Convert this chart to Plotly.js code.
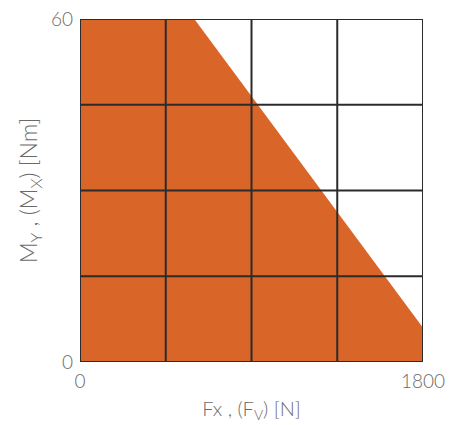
<!DOCTYPE html>
<html>
<head>
<meta charset="utf-8">
<script src="https://cdn.plot.ly/plotly-3.0.1.min.js"></script>
<style>
  html, body { margin: 0; padding: 0; background: #fff; }
  #chart { width: 460px; height: 425px; }
</style>
</head>
<body>
<div id="chart"></div>
<script>
// load envelope: force Fx [N] vs moment My [Nm]
const forceN = [0, 0, 600, 1800, 1800, 0];
const momentNm = [0, 60, 60, 6, 0, 0];

const xGrid = [0, 450, 900, 1350, 1800];
const xLabels = ['0', '', '', '', '1800'];
const yGrid = [0, 15, 30, 45, 60];
const yLabels = ['0', '', '', '', '60'];

function drawChart() {
    const chartDiv = document.getElementById("chart");
    const lineCol = '#2b2b2b';
    const textCol = '#6a6a6a';

    // grid drawn as shapes so it sits on top of the filled area
    const shapes = [];
    xGrid.forEach(v => shapes.push({
        type: 'line', xref: 'x', yref: 'paper', x0: v, x1: v, y0: 0, y1: 1,
        line: { color: lineCol, width: 2 }, layer: 'above'
    }));
    yGrid.forEach(v => shapes.push({
        type: 'line', xref: 'paper', yref: 'y', x0: 0, x1: 1, y0: v, y1: v,
        line: { color: lineCol, width: 2 }, layer: 'above'
    }));

    Plotly.newPlot(chartDiv, [
        {
            x: forceN,
            y: momentNm,
            mode: 'none',
            fill: 'toself',
            fillcolor: '#da6529',
            hoverinfo: 'skip',
            showlegend: false
        }
    ], {
        width: 460,
        height: 425,
        margin: { l: 80, r: 37, t: 19, b: 63 },
        paper_bgcolor: '#fff',
        plot_bgcolor: '#fff',
        font: { family: 'Lato, sans-serif', color: textCol },
        shapes: shapes,
        xaxis: {
            range: [0, 1800],
            tickmode: 'array',
            tickvals: xGrid,
            ticktext: xLabels,
            showgrid: false,
            zeroline: false,
            showline: false,
            ticks: '',
            ticklabelstandoff: 6,
            tickfont: { size: 19, color: textCol, weight: 300 },
            title: { text: 'Fx , (F<sub>V</sub>) [N]', font: { size: 20, color: textCol, weight: 300 }, standoff: 10 }
        },
        yaxis: {
            range: [0, 60],
            tickmode: 'array',
            tickvals: yGrid,
            ticktext: yLabels,
            showgrid: false,
            zeroline: false,
            showline: false,
            ticks: '',
            ticklabelstandoff: 6,
            tickfont: { size: 19, color: textCol, weight: 300 },
            title: { text: 'M<sub>Y</sub> , (M<sub>X</sub>) [Nm]', font: { size: 23, color: textCol, weight: 300 }, standoff: 6 }
        }
    }, { displayModeBar: false, staticPlot: true });
}

window.addEventListener("load", drawChart);
</script>
</body>
</html>
